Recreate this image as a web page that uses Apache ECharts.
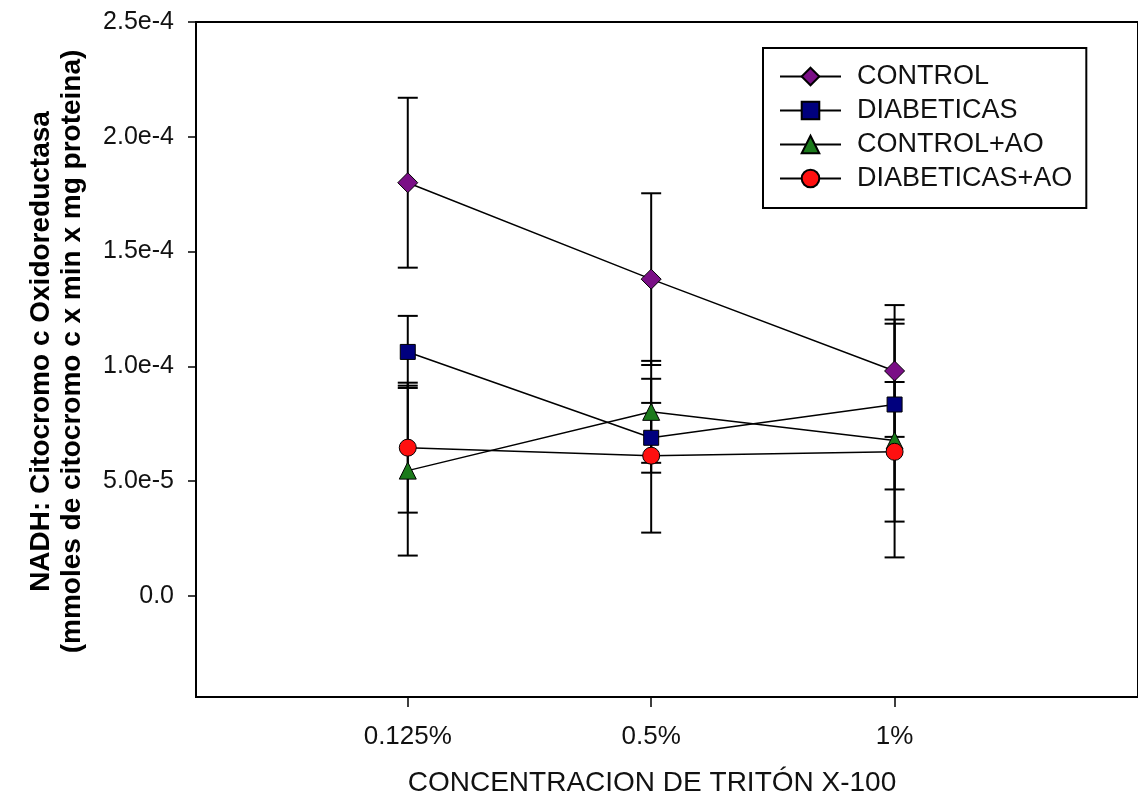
<!DOCTYPE html>
<html>
<head>
<meta charset="utf-8">
<script src="https://cdn.jsdelivr.net/npm/echarts@6/dist/echarts.min.js"></script>
<style>
  html, body { margin: 0; padding: 0; background: #fff; }
  #main { width: 1138px; height: 802px; }
</style>
</head>
<body>
<div id="main"></div>
<script>
// categorias del eje x (concentracion de triton)
let categories = ['0.125%', '0.5%', '1%'];
let yTicks = [0, 5e-5, 1e-4, 1.5e-4, 2e-4, 2.5e-4];

// medias y errores de cada grupo
let control = [1.80e-4, 1.38e-4, 9.8e-5];
let controlErr = [3.7e-5, 3.74e-5, 2.87e-5];
let diabeticas = [1.063e-4, 6.89e-5, 8.34e-5];
let diabeticasErr = [1.57e-5, 1.52e-5, 3.7e-5];
let controlAO = [5.46e-5, 8.02e-5, 6.77e-5];
let controlAOErr = [3.7e-5, 2.22e-5, 5.09e-5];
let diabeticasAO = [6.46e-5, 6.11e-5, 6.28e-5];
let diabeticasAOErr = [2.83e-5, 3.35e-5, 3.04e-5];

const FONT = 'Liberation Sans, Arial, sans-serif';

let groups = [
    { name: 'CONTROL', data: control, err: controlErr, symbol: 'diamond', size: 20, color: '#7a0f86' },
    { name: 'DIABETICAS', data: diabeticas, err: diabeticasErr, symbol: 'rect', size: 15, color: '#00007e' },
    { name: 'CONTROL+AO', data: controlAO, err: controlAOErr, symbol: 'triangle', size: 17, color: '#1b7a1b' },
    { name: 'DIABETICAS+AO', data: diabeticasAO, err: diabeticasAOErr, symbol: 'circle', size: 17, color: '#ff1010' }
];

function errorBar(params, api) {
    let x = api.value(0);
    let p1 = api.coord([x, api.value(1)]);
    let p2 = api.coord([x, api.value(2)]);
    let w = 10;
    let style = { stroke: '#000', lineWidth: 2 };
    return {
        type: 'group',
        children: [
            { type: 'line', shape: { x1: p1[0], y1: p1[1], x2: p2[0], y2: p2[1] }, style: style },
            { type: 'line', shape: { x1: p1[0] - w, y1: p1[1], x2: p1[0] + w, y2: p1[1] }, style: style },
            { type: 'line', shape: { x1: p2[0] - w, y1: p2[1], x2: p2[0] + w, y2: p2[1] }, style: style }
        ]
    };
}

let series = [];
groups.forEach(function (g) {
    series.push({
        name: g.name + ' err',
        type: 'custom',
        renderItem: errorBar,
        z: 1,
        silent: true,
        data: g.data.map(function (v, i) { return [i + 1, v - g.err[i], v + g.err[i]]; })
    });
});
groups.forEach(function (g, k) {
    series.push({
        name: g.name,
        type: 'line',
        z: 2 + k,
        symbol: g.symbol,
        symbolSize: g.size,
        lineStyle: { color: '#000', width: 1.5 },
        itemStyle: { color: g.color, borderColor: '#000', borderWidth: 1 },
        data: g.data.map(function (v, i) { return [i + 1, v]; })
    });
});

let option = {
    animation: false,
    backgroundColor: '#fff',
    textStyle: { fontFamily: FONT },
    grid: {
        left: 196, right: 0, top: 22, bottom: 105,
        show: true, borderColor: '#000', borderWidth: 2
    },
    legend: {
        data: groups.map(function (g) { return g.name; }),
        orient: 'vertical',
        left: 763, top: 48,
        padding: [15, 14, 16, 16],
        itemWidth: 61, itemHeight: 22, itemGap: 7,
        borderColor: '#000', borderWidth: 2,
        backgroundColor: '#fff',
        textStyle: { fontSize: 27, lineHeight: 27, color: '#111', fontFamily: FONT, padding: [0, 0, 0, 11] }
    },
    xAxis: {
        type: 'value',
        min: 0.13, max: 4,
        name: 'CONCENTRACION DE TRITÓN X-100',
        nameLocation: 'middle',
        nameGap: 72,
        nameTextStyle: { fontSize: 28, color: '#111', padding: [0, 30, 0, 0] },
        splitLine: { show: false },
        axisLine: { onZero: false, lineStyle: { color: '#000', width: 2 } },
        axisTick: { customValues: [1, 2, 3], length: 10, lineStyle: { color: '#000', width: 1.5 } },
        axisLabel: {
            customValues: [1, 2, 3],
            margin: 27, fontSize: 26, color: '#111',
            formatter: function (v) { return categories[Math.round(v) - 1]; }
        }
    },
    yAxis: {
        type: 'value',
        min: -4.4e-5, max: 2.5e-4,
        name: 'NADH: Citocromo c Oxidoreductasa\n(mmoles de citocromo c x min x mg proteina)',
        nameLocation: 'middle',
        nameRotate: 90,
        nameGap: 108,
        nameTextStyle: { fontSize: 28, fontWeight: 'bold', color: '#000', lineHeight: 31, padding: [0, 0, 0, 16] },
        splitLine: { show: false },
        axisLine: { onZero: false, lineStyle: { color: '#000', width: 2 } },
        axisTick: { customValues: yTicks, length: 8, lineStyle: { color: '#000', width: 1.5 } },
        axisLabel: {
            customValues: yTicks,
            margin: 22, fontSize: 25, color: '#111',
            formatter: function (v) { return v === 0 ? '0.0' : v.toExponential(1); }
        }
    },
    series: series
};

let myChart = echarts.init(document.getElementById('main'));
myChart.setOption(option);
</script>
</body>
</html>
